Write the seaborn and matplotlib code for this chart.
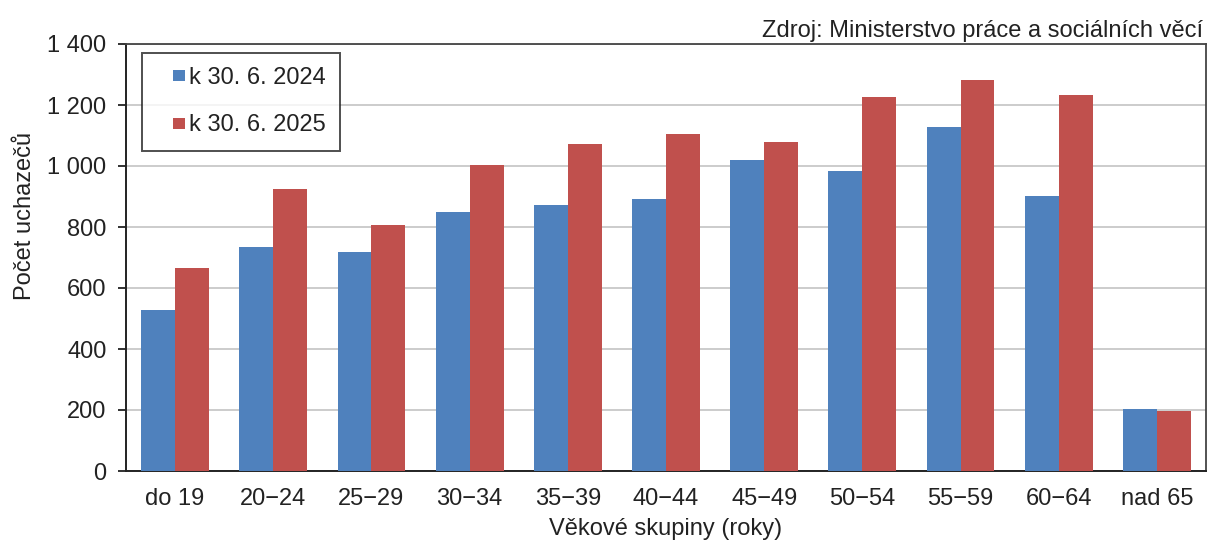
import numpy as np
import pandas as pd
import seaborn as sns
import matplotlib.pyplot as plt
from matplotlib.patches import Rectangle
from matplotlib.legend_handler import HandlerPatch
from matplotlib.ticker import FuncFormatter, FixedLocator

age_groups = ['do 19', '20\u221224', '25\u221229', '30\u221234', '35\u221239', '40\u221244',
              '45\u221249', '50\u221254', '55\u221259', '60\u221264', 'nad 65']
values_2024 = [528, 733, 718, 849, 872, 892, 1020, 983, 1128, 902, 203]
values_2025 = [667, 923, 806, 1003, 1071, 1105, 1079, 1226, 1282, 1233, 197]
series_names = ['k 30. 6. 2024', 'k 30. 6. 2025']
colors = ['#4F81BD', '#C0504D']

df = pd.DataFrame({
    'group': age_groups * 2,
    'value': values_2024 + values_2025,
    'series': [series_names[0]] * len(age_groups) + [series_names[1]] * len(age_groups),
})

sns.set_style('white')
plt.rcParams['font.family'] = ['Liberation Sans', 'DejaVu Sans']
text_color = '#222222'
fs = 17

fig = plt.figure(figsize=(12.13, 5.49), dpi=100)
ax = fig.add_axes([126 / 1213, 1 - 471 / 549, (1206 - 126) / 1213, (471 - 44) / 549])

sns.barplot(data=df, x='group', y='value', hue='series', palette=colors,
            width=0.69, saturation=1, linewidth=0, ax=ax, zorder=3)

ax.set_ylim(0, 1400)
ax.set_xlim(-0.5, len(age_groups) - 0.5)
ax.set_yticks(np.arange(0, 1401, 200))
ax.yaxis.set_major_formatter(FuncFormatter(lambda v, _: f'{int(v):,}'.replace(',', ' ')))
ax.grid(axis='y', color='#cccccc', linewidth=1.4, zorder=0)
ax.set_axisbelow(True)

# Excel-style ticks between categories
ax.xaxis.set_minor_locator(FixedLocator(np.arange(-0.5, len(age_groups), 1)))
ax.tick_params(axis='x', which='major', length=0, pad=12, labelsize=fs, labelcolor=text_color)
ax.tick_params(axis='x', which='minor', length=6, width=1.3, direction='out', color='#222222')
ax.tick_params(axis='y', length=6, width=1.3, direction='out', color='#222222',
               labelsize=fs, labelcolor=text_color, pad=8, left=True)

for side in ['left', 'bottom']:
    ax.spines[side].set_color('#222222')
    ax.spines[side].set_linewidth(1.4)
for side in ['top', 'right']:
    ax.spines[side].set_color('#444444')
    ax.spines[side].set_linewidth(1.3)

ax.set_xlabel('Věkové skupiny (roky)', fontsize=fs, color=text_color, labelpad=6)
ax.set_ylabel('Počet uchazečů', fontsize=fs, color=text_color)
ax.yaxis.set_label_coords(-0.083, 0.597)  # label sits above the axis middle, as in the source


def small_square(legend, orig_handle, xdescent, ydescent, width, height, fontsize):
    side = 0.47 * fontsize
    return Rectangle((width - side - xdescent, (height - side) / 2 - ydescent), side, side)


handles, labels = ax.get_legend_handles_labels()
leg = ax.legend(handles, labels, loc='upper left', bbox_to_anchor=(16 / 1080, 1 - 9 / 427),
                frameon=True, fancybox=False, fontsize=fs, handlelength=1.2, handleheight=0.7,
                handletextpad=0.2, labelspacing=1.07, borderpad=0.6, borderaxespad=0,
                labelcolor=text_color,
                handler_map={h: HandlerPatch(patch_func=small_square) for h in handles})
leg.get_frame().set_edgecolor('#222222')
leg.get_frame().set_linewidth(1.4)

ax.text(1 - 3 / 1080, 1.005, 'Zdroj: Ministerstvo práce a sociálních věcí', transform=ax.transAxes,
        ha='right', va='bottom', fontsize=fs, color=text_color)

fig.savefig('out.png', dpi=100)
